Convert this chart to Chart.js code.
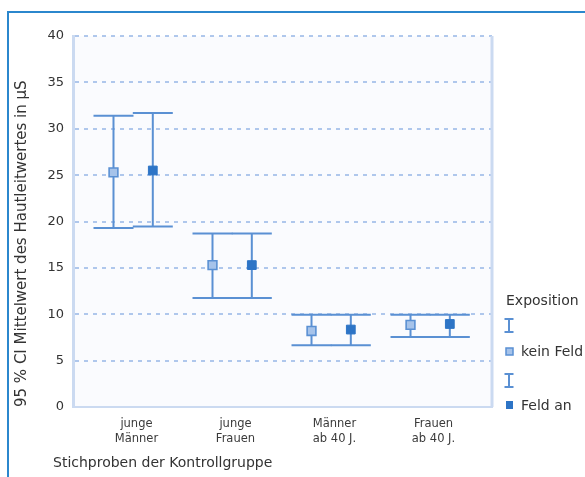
<!DOCTYPE html>
<html>
<head>
<meta charset="utf-8">
<script src="https://cdn.jsdelivr.net/npm/chart.js@4.4.1/dist/chart.umd.min.js"></script>
<style>
  html, body { margin: 0; padding: 0; background: #ffffff; }
  #wrap { position: relative; width: 585px; height: 477px; overflow: hidden; }
  #frame { position: absolute; left: 7px; top: 11px; right: -10px; bottom: -10px;
           border-top: 2px solid #2b87cd; border-left: 2px solid #2b87cd; }
  #c { position: absolute; left: 0; top: 0; }
</style>
</head>
<body>
<div id="wrap">
  <div id="frame"></div>
  <canvas id="c" width="585" height="477"></canvas>
</div>
<script>
// Sample groups (x axis), two lines each
const categories = [
  ['junge', 'Männer'],
  ['junge', 'Frauen'],
  ['Männer', 'ab 40 J.'],
  ['Frauen', 'ab 40 J.']
];
const seriesNames = ['kein Feld', 'Feld an'];

// Means and 95 % confidence limits of skin conductance (µS)
const keinFeldMean = [25.3, 15.3, 8.2, 8.85];
const keinFeldLow  = [19.3, 11.75, 6.65, 7.55];
const keinFeldHigh = [31.4, 18.7, 9.95, 9.95];
const feldAnMean   = [25.5, 15.3, 8.35, 8.95];
const feldAnLow    = [19.45, 11.75, 6.65, 7.55];
const feldAnHigh   = [31.7, 18.7, 9.95, 9.95];

const yTicks = [0, 5, 10, 15, 20, 25, 30, 35, 40];

const yTitle = '95 % CI Mittelwert des Hautleitwertes in \u03BCS';
const xTitle = 'Stichproben der Kontrollgruppe';
const legendTitle = 'Exposition';

// styling
const FONT = 'DejaVu Sans';
const TEXT = '#333333';
const BAR_BLUE = '#5a90d3';
const DARK_BLUE = '#2d74c6';
const LIGHT_FILL = '#a6c3ea';
const GRID_BLUE = 'rgba(150,182,230,0.75)';
const AXIS_BLUE = '#cbdaf1';
const OFF_KEIN = -0.232;   // horizontal shift of the "kein Feld" marker within a group
const OFF_AN = 0.165;      // horizontal shift of the "Feld an" marker within a group
const CAP_HALF = 20;       // half width of whisker caps in px

const keinData = keinFeldMean.map((v, i) => ({ x: i + 1 + OFF_KEIN, y: v, lo: keinFeldLow[i], hi: keinFeldHigh[i] }));
const anData = feldAnMean.map((v, i) => ({ x: i + 1 + OFF_AN, y: v, lo: feldAnLow[i], hi: feldAnHigh[i] }));

// plot background and right frame line
const backdrop = {
  id: 'backdrop',
  beforeDraw(chart) {
    const { ctx, chartArea: a } = chart;
    ctx.save();
    ctx.fillStyle = '#fafbfe';
    ctx.fillRect(a.left, a.top, a.right - a.left, a.bottom - a.top);
    ctx.restore();
  },
  beforeDatasetsDraw(chart) {
    const { ctx, chartArea: a } = chart;
    ctx.save();
    ctx.strokeStyle = AXIS_BLUE;
    ctx.lineWidth = 3;
    ctx.beginPath();
    ctx.moveTo(a.right, a.top);
    ctx.lineTo(a.right, a.bottom);
    ctx.stroke();
    ctx.restore();
  }
};

// whiskers with caps for every point, drawn through the scales
const errorBars = {
  id: 'errorBars',
  beforeDatasetsDraw(chart) {
    const { ctx, scales: { x, y } } = chart;
    ctx.save();
    ctx.strokeStyle = BAR_BLUE;
    ctx.lineWidth = 2;
    chart.data.datasets.forEach(ds => {
      ds.data.forEach(p => {
        const px = x.getPixelForValue(p.x);
        const pLo = y.getPixelForValue(p.lo);
        const pHi = y.getPixelForValue(p.hi);
        ctx.beginPath();
        ctx.moveTo(px, pLo); ctx.lineTo(px, pHi);
        ctx.moveTo(px - CAP_HALF, pLo); ctx.lineTo(px + CAP_HALF, pLo);
        ctx.moveTo(px - CAP_HALF, pHi); ctx.lineTo(px + CAP_HALF, pHi);
        ctx.stroke();
      });
    });
    ctx.restore();
  }
};

// x-axis title and legend at the right
const annotations = {
  id: 'annotations',
  afterDraw(chart) {
    const { ctx } = chart;
    ctx.save();
    ctx.fillStyle = TEXT;
    ctx.font = '14px "' + FONT + '"';
    ctx.textBaseline = 'middle';
    ctx.textAlign = 'left';
    ctx.fillText(xTitle, 53, 463);
    ctx.fillText(legendTitle, 506, 301);

    const beam = (cx, top, bottom) => {
      ctx.strokeStyle = BAR_BLUE;
      ctx.lineWidth = 2;
      ctx.beginPath();
      ctx.moveTo(cx, top); ctx.lineTo(cx, bottom);
      ctx.moveTo(cx - 4.5, top); ctx.lineTo(cx + 4.5, top);
      ctx.moveTo(cx - 4.5, bottom); ctx.lineTo(cx + 4.5, bottom);
      ctx.stroke();
    };
    beam(509, 319, 332);
    beam(509, 374, 387);

    // kein Feld marker
    ctx.fillStyle = LIGHT_FILL;
    ctx.fillRect(506, 348, 7, 7);
    ctx.strokeStyle = BAR_BLUE;
    ctx.lineWidth = 1.5;
    ctx.strokeRect(506, 348, 7, 7);
    // Feld an marker
    ctx.fillStyle = DARK_BLUE;
    ctx.fillRect(506, 401, 7, 8);

    ctx.fillStyle = TEXT;
    ctx.fillText(seriesNames[0], 521, 352);
    ctx.fillText(seriesNames[1], 521, 406);
    ctx.restore();
  }
};

new Chart(document.getElementById('c'), {
  type: 'scatter',
  data: {
    datasets: [
      {
        label: seriesNames[0],
        data: keinData,
        pointStyle: 'rect',
        pointRadius: 6.2,
        backgroundColor: LIGHT_FILL,
        borderColor: BAR_BLUE,
        borderWidth: 1.6
      },
      {
        label: seriesNames[1],
        data: anData,
        pointStyle: 'rect',
        pointRadius: 6.2,
        backgroundColor: DARK_BLUE,
        borderColor: DARK_BLUE,
        borderWidth: 1
      }
    ]
  },
  options: {
    responsive: false,
    animation: false,
    devicePixelRatio: 1,
    layout: { padding: { left: 0, right: 93, top: 36, bottom: 0 } },
    plugins: {
      legend: { display: false },
      tooltip: { enabled: false }
    },
    scales: {
      x: {
        type: 'linear',
        min: 0.359,
        max: 4.591,
        afterBuildTicks: s => { s.ticks = categories.map((c, i) => ({ value: i + 1 })); },
        afterFit: s => { s.height = 70; },
        grid: { display: false },
        border: { color: AXIS_BLUE, width: 2 },
        ticks: {
          callback: v => categories[v - 1],
          font: { family: FONT, size: 11.5, lineHeight: 1.3 },
          color: '#3a3a3a',
          padding: 2,
          maxRotation: 0,
          autoSkip: false
        }
      },
      y: {
        min: 0,
        max: 40,
        afterBuildTicks: s => { s.ticks = yTicks.map(v => ({ value: v })); },
        afterFit: s => { s.width = 73; },
        grid: { color: GRID_BLUE, lineWidth: 2, drawTicks: false },
        border: { color: AXIS_BLUE, width: 3, dash: [4, 5] },
        ticks: {
          font: { family: FONT, size: 13 },
          color: TEXT,
          padding: 9
        },
        title: {
          display: true,
          text: yTitle,
          align: 'start',
          font: { family: FONT, size: 15 },
          color: TEXT,
          padding: { top: 13, bottom: 0 }
        }
      }
    }
  },
  plugins: [backdrop, errorBars, annotations]
});
</script>
</body>
</html>
